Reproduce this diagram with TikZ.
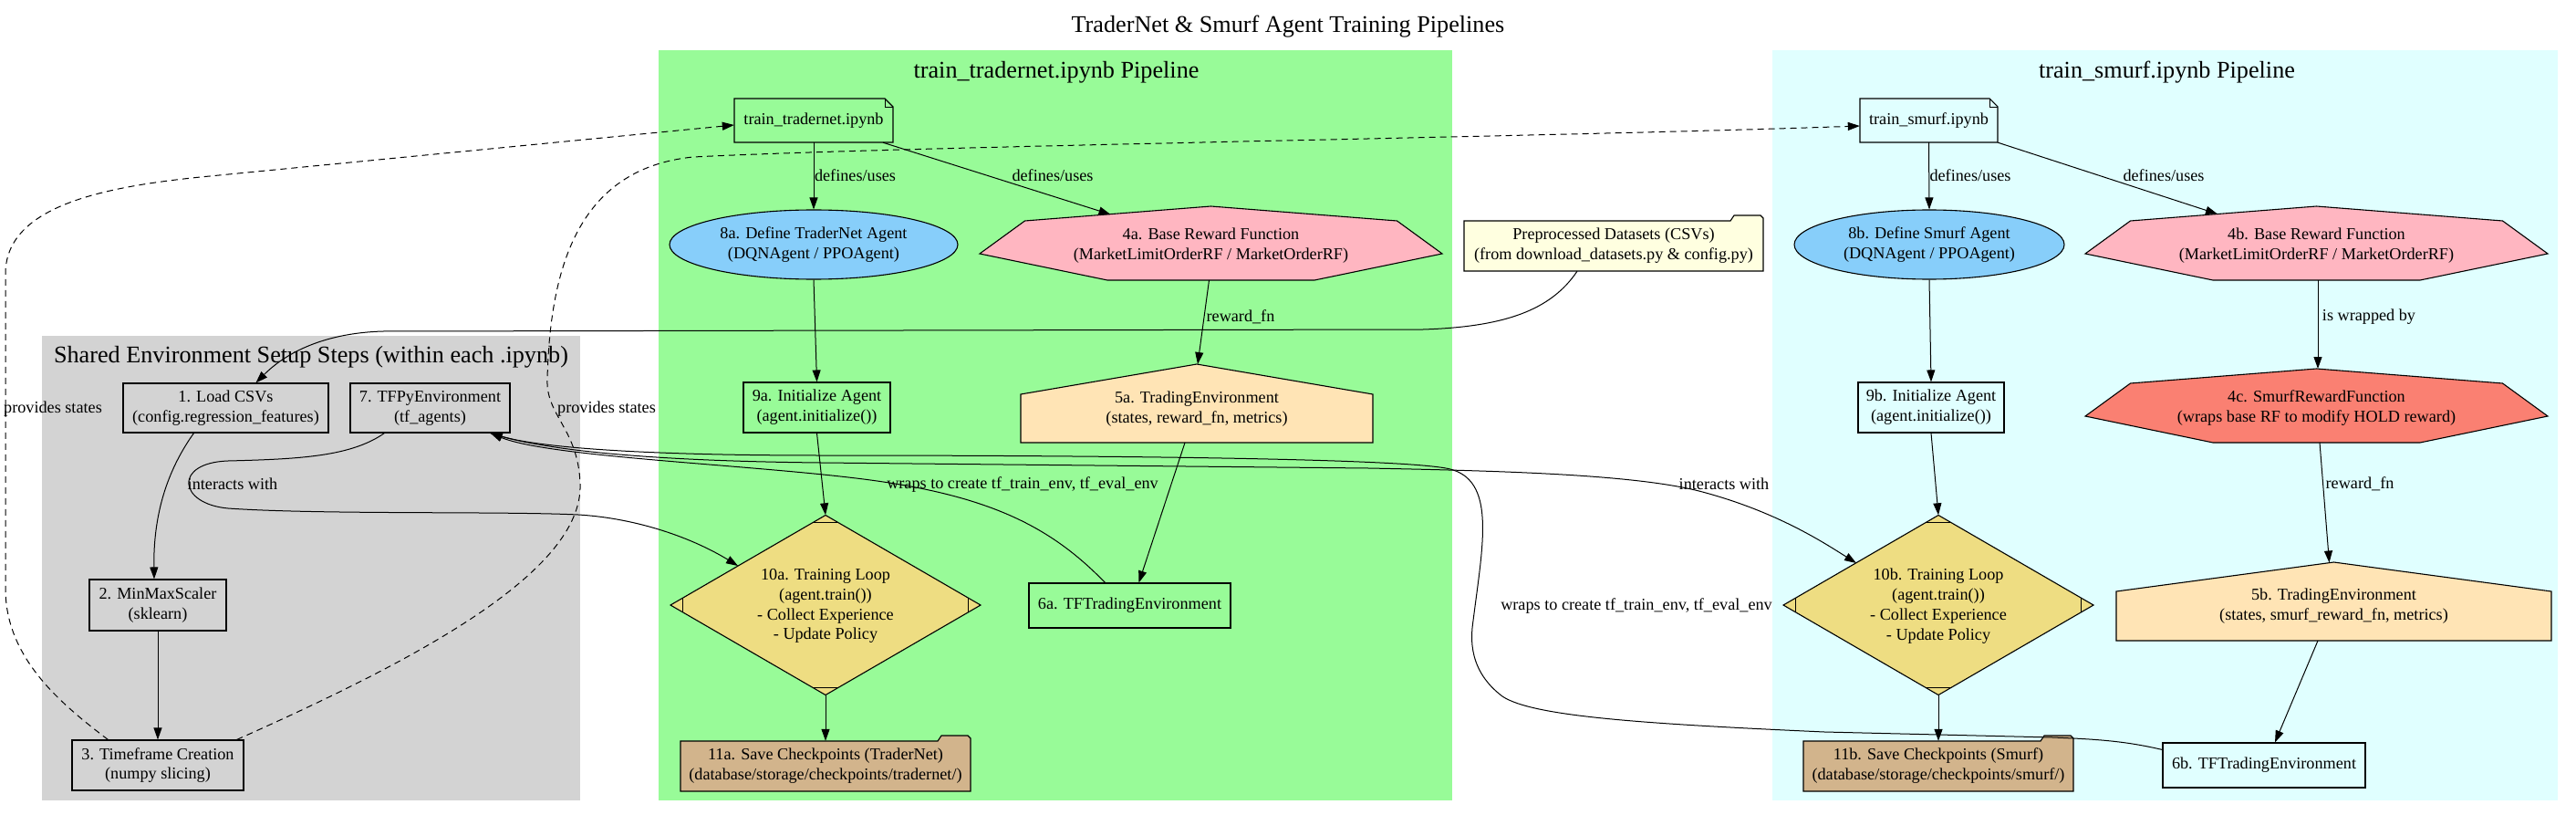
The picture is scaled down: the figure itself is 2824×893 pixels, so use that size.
\documentclass[tikz,border=0pt]{standalone}
\usepackage{fontspec}
\setmainfont{Liberation Serif}
\usetikzlibrary{arrows.meta,calc,shapes.geometric}
\definecolor{cgray}{HTML}{D3D3D3}
\definecolor{cgreen}{HTML}{98FB98}
\definecolor{ccyan}{HTML}{E0FFFF}
\definecolor{cblue}{HTML}{87CEFA}
\definecolor{cpink}{HTML}{FFB6C1}
\definecolor{csalmon}{HTML}{FA8072}
\definecolor{cmoccasin}{HTML}{FFE4B5}
\definecolor{cgold}{HTML}{EEDD82}
\definecolor{ctan}{HTML}{D2B48C}
\definecolor{cyellow}{HTML}{FFFFE0}
\newcommand\sevenshape[3]{%
 \filldraw[fill=#3, shapeline, shift={(#1,#2)}] (0,-43) -- (204,-27) -- (253.5,9) -- (113.5,38) -- (-113.5,38) -- (-253.5,9) -- (-204,-27) -- cycle;}
\newcommand\houseshape[6]{%
 \filldraw[fill=cmoccasin, shapeline, shift={(#1,#2)}] (0,#4) -- (#3,#5) -- (#3,#6) -- (-#3,#6) -- (-#3,#5) -- cycle;}
\newcommand\mdshape[2]{%
 \filldraw[fill=cgold, shapeline, shift={(#1,#2)}] (0,-98.5) -- (170,0) -- (0,98.5) -- (-170,0) -- cycle;
 \draw[shapeline, line width=1.6pt, shift={(#1,#2)}] (-13.8,-90.5) -- (13.8,-90.5) (-13.8,90.5) -- (13.8,90.5);
 \draw[shapeline, shift={(#1,#2)}] (-156.2,-8) -- (-156.2,8) (156.2,-8) -- (156.2,8);}
\newcommand\foldershape[5]{%
 \filldraw[fill=#5, shapeline, shift={(#1,#2)}] (-#3,-#4) -- ({#3-36},-#4) -- ({#3-32},{-#4-6}) -- ({#3-3},{-#4-6}) -- (#3,{-#4-3}) -- (#3,#4) -- (-#3,#4) -- cycle;}
\newcommand\noteshape[5]{%
 \filldraw[fill=#5, shapeline, shift={(#1,#2)}] (-#3,-#4) -- ({#3-9},-#4) -- (#3,{-#4+9}) -- (#3,#4) -- (-#3,#4) -- cycle;
 \draw[shapeline, line width=0.8pt, shift={(#1,#2)}] ({#3-9},-#4) -- ({#3-9},{-#4+9}) -- (#3,{-#4+9});}
\begin{document}
\begin{tikzpicture}[x=1pt,y=-1pt,
 every node/.style={font=\fontsize{18.2}{21.9}\selectfont, inner sep=0pt, align=center},
 shapeline/.style={draw=black, line width=1.1pt},
 box/.style={draw=black, line width=1.1pt, rectangle},
 edge/.style={line width=1pt, -{Triangle[length=13pt,width=9pt]}},
 dashedge/.style={edge, dash pattern=on 7pt off 5pt},
 lbl/.style={font=\fontsize{18.2}{21.9}\selectfont},
 ttl/.style={font=\fontsize{26.2}{31}\selectfont}]
\useasboundingbox (0,0) rectangle (2824,893);
\fill[white] (0,0) rectangle (2824,893);
% clusters
\fill[cgray] (46,368) rectangle (636,877);
\fill[cgreen] (722,55) rectangle (1592,877);
\fill[ccyan] (1943,55) rectangle (2804,877);
\node[ttl] (title) at (1412,29) {TraderNet \& Smurf Agent Training Pipelines};
\node[ttl] (tgray) at (341,391) {Shared Environment Setup Steps (within each .ipynb)};
\node[ttl] (tgreen) at (1158,79) {train\_tradernet.ipynb Pipeline};
\node[ttl] (tcyan) at (2375.5,79) {train\_smurf.ipynb Pipeline};
% custom outlines
\noteshape{892}{132}{87}{24}{cgreen}
\noteshape{2114.5}{132}{75.5}{24}{ccyan}
\sevenshape{1327.5}{269}{cpink}
\sevenshape{2539.5}{269}{cpink}
\sevenshape{2539.5}{447}{csalmon}
\houseshape{1312}{448}{193}{-49}{-16}{37}
\houseshape{2558.5}{664.5}{238.5}{-48.5}{-16.5}{37.5}
\mdshape{905}{663}
\mdshape{2125}{663}
\foldershape{905}{839.5}{159}{27.5}{ctan}
\foldershape{2125}{839.5}{148}{27.5}{ctan}
\foldershape{1769}{269.5}{164}{27.5}{cyellow}
% gray nodes
\node[box, fill=cgray, minimum width=225pt, minimum height=54pt] (n1) at (247.5,447) {1. Load CSVs\\(config.regression\_features)};
\node[box, fill=cgray, minimum width=175pt, minimum height=54pt] (n7) at (471.5,447) {7. TFPyEnvironment\\(tf\_agents)};
\node[box, fill=cgray, minimum width=150pt, minimum height=56pt] (n2) at (173,663) {2. MinMaxScaler\\(sklearn)};
\node[box, fill=cgray, minimum width=188pt, minimum height=55pt] (n3) at (173,838.5) {3. Timeframe Creation\\(numpy slicing)};
% green nodes
\node[minimum width=174pt, minimum height=48pt] (tn) at (892,132) {train\_tradernet.ipynb};
\node[ellipse, draw=black, line width=1.1pt, fill=cblue, minimum width=316pt, minimum height=76pt] (n8a) at (892,268) {8a. Define TraderNet Agent\\(DQNAgent / PPOAgent)};
\node (n4a) at (1327.5,269) {4a. Base Reward Function\\(MarketLimitOrderRF / MarketOrderRF)};
\node[box, fill=cgreen, minimum width=161pt, minimum height=55pt] (n9a) at (895.5,446.5) {9a. Initialize Agent\\(agent.initialize())};
\node (n5a) at (1312,448) {5a. TradingEnvironment\\(states, reward\_fn, metrics)};
\node[minimum width=340pt, minimum height=197pt] (n10a) at (905,663) {};
\node (n10at) at (905,664) {10a. Training Loop\\(agent.train())\\- Collect Experience\\- Update Policy};
\node[box, fill=cgreen, minimum width=221pt, minimum height=49pt] (n6a) at (1238.5,663.5) {6a. TFTradingEnvironment};
\node[minimum width=318pt, minimum height=55pt] (n11a) at (905,839.5) {11a. Save Checkpoints (TraderNet)\\(database/storage/checkpoints/tradernet/)};
% preprocessed
\node[minimum width=328pt, minimum height=55pt] (npre) at (1769,269.5) {Preprocessed Datasets (CSVs)\\(from download\_datasets.py \& config.py)};
% cyan nodes
\node[minimum width=151pt, minimum height=48pt] (ts) at (2114.5,132) {train\_smurf.ipynb};
\node[ellipse, draw=black, line width=1.1pt, fill=cblue, minimum width=296pt, minimum height=76pt] (n8b) at (2115,268) {8b. Define Smurf Agent\\(DQNAgent / PPOAgent)};
\node (n4b) at (2539.5,269) {4b. Base Reward Function\\(MarketLimitOrderRF / MarketOrderRF)};
\node[box, fill=ccyan, minimum width=160pt, minimum height=55pt] (n9b) at (2117,446.5) {9b. Initialize Agent\\(agent.initialize())};
\node (n4c) at (2539.5,447) {4c. SmurfRewardFunction\\(wraps base RF to modify HOLD reward)};
\node (n5b) at (2558.5,664.5) {5b. TradingEnvironment\\(states, smurf\_reward\_fn, metrics)};
\node[minimum width=340pt, minimum height=197pt] (n10b) at (2125,663) {};
\node (n10bt) at (2125,664) {10b. Training Loop\\(agent.train())\\- Collect Experience\\- Update Policy};
\node[minimum width=296pt, minimum height=55pt] (n11b) at (2125,839.5) {11b. Save Checkpoints (Smurf)\\(database/storage/checkpoints/smurf/)};
\node[box, fill=ccyan, minimum width=222pt, minimum height=49pt] (n6b) at (2482,838.5) {6b. TFTradingEnvironment};
% edges: gray
\draw[edge] ($(n1.south)+(-35,0)$) .. controls (180,520) and (168,570) .. ($(n2.north)+(-4,0)$);
\draw[edge] (n2.south) -- (n3.north);
\draw[edge] ($(npre.south)+(-40,0)$) .. controls (1700,340) and (1650,358) .. (1560,361) -- (420,363) .. controls (350,365) and (310,390) .. ($(n1.north)+(33,0)$);
\draw[edge] ($(n7.south)+(-50,0)$) .. controls (385,500) and (330,503) .. (250,505) .. controls (190,507) and (195,552) .. (250,557) .. controls (350,564) and (550,560) .. (634,564) .. controls (700,568) and (760,590) .. ($(n10a.center)+(-96,-43)$);
\draw[dashedge] ($(n3.north west)+(40,0)$) .. controls (65,770) and (6,720) .. (6,645) -- (6,300) .. controls (6,225) and (115,204) .. (230,193) -- ($(tn.west)+(0,5)$);
\draw[dashedge] ($(n3.north east)+(-8,0)$) .. controls (440,730) and (640,630) .. (636,530) .. controls (634,470) and (598,455) .. (600,415) .. controls (603,300) and (630,185) .. (760,172) .. controls (1000,160) and (1700,150) .. ($(ts.west)+(0,6)$);
% edges: green
\draw[edge] (tn.south) -- (n8a.north);
\draw[edge] ($(tn.south)+(76,0)$) -- ($(n4a.center)+(-110,-34)$);
\draw[edge] (n8a.south) -- (n9a.north);
\draw[edge] ($(n4a.center)+(-2,38)$) -- ($(n5a.center)+(1,-49)$);
\draw[edge] (n9a.south) -- (n10a.north);
\draw[edge] ($(n5a.center)+(-13,37)$) -- ($(n6a.north)+(10,0)$);
\draw[edge] (n10a.south) -- (n11a.north);
\draw[edge] ($(n6a.north)+(-27,0)$) .. controls (1150,575) and (1080,540) .. (930,523) .. controls (800,508) and (600,500) .. ($(n7.south east)+(-22,0)$);
% edges: cyan
\draw[edge] (ts.south) -- (n8b.north);
\draw[edge] (ts.south east) -- ($(n4b.center)+(-108.5,-34.5)$);
\draw[edge] (n8b.south) -- (n9b.north);
\draw[edge] ($(n4b.center)+(1.5,38)$) -- ($(n4c.center)+(1.5,-43)$);
\draw[edge] (n9b.south) -- (n10b.north);
\draw[edge] ($(n4c.center)+(3.5,38)$) -- ($(n5b.center)+(-5,-48)$);
\draw[edge] ($(n5b.center)+(-17.5,37.5)$) -- ($(n6b.north)+(12,0)$);
\draw[edge] (n10b.south) -- (n11b.north);
\draw[edge] ($(n6b.north west)+(0,8)$) .. controls (2330,812) and (2300,810) .. (2250,808) -- (2000,802) .. controls (1800,793) and (1680,785) .. (1647,763) .. controls (1610,735) and (1612,700) .. (1615,680) .. controls (1625,600) and (1640,530) .. (1593,515) .. controls (1560,502) and (1200,499) .. (900,499) .. controls (700,499) and (590,490) .. ($(n7.south east)+(-22,0)$);
\draw[edge] ($(n7.south east)+(-22,0)$) .. controls (590,492) and (700,505) .. (900,507) -- (1500,513) .. controls (1650,516) and (1800,520) .. (1870,540) .. controls (1950,562) and (2000,595) .. ($(n10b.center)+(-90,-46)$);
% edge labels
\node[lbl] (l1) at (937.5,192) {defines/uses};
\node[lbl] (l2) at (1154,192) {defines/uses};
\node[lbl] (l3) at (1360,347) {reward\_fn};
\node[lbl] (l4) at (2160,192) {defines/uses};
\node[lbl] (l5) at (2372,192) {defines/uses};
\node[lbl] (l6) at (2597,347) {is wrapped by};
\node[lbl] (l7) at (2587,530) {reward\_fn};
\node[lbl] (l8) at (1121,531) {wraps to create tf\_train\_env, tf\_eval\_env};
\node[lbl] (l9) at (1794,664) {wraps to create tf\_train\_env, tf\_eval\_env};
\node[lbl] (l10) at (255,530) {interacts with};
\node[lbl] (l11) at (1890,530) {interacts with};
\node[lbl] (l12) at (58,448) {provides states};
\node[lbl] (l13) at (665,448) {provides states};
\end{tikzpicture}
\end{document}
